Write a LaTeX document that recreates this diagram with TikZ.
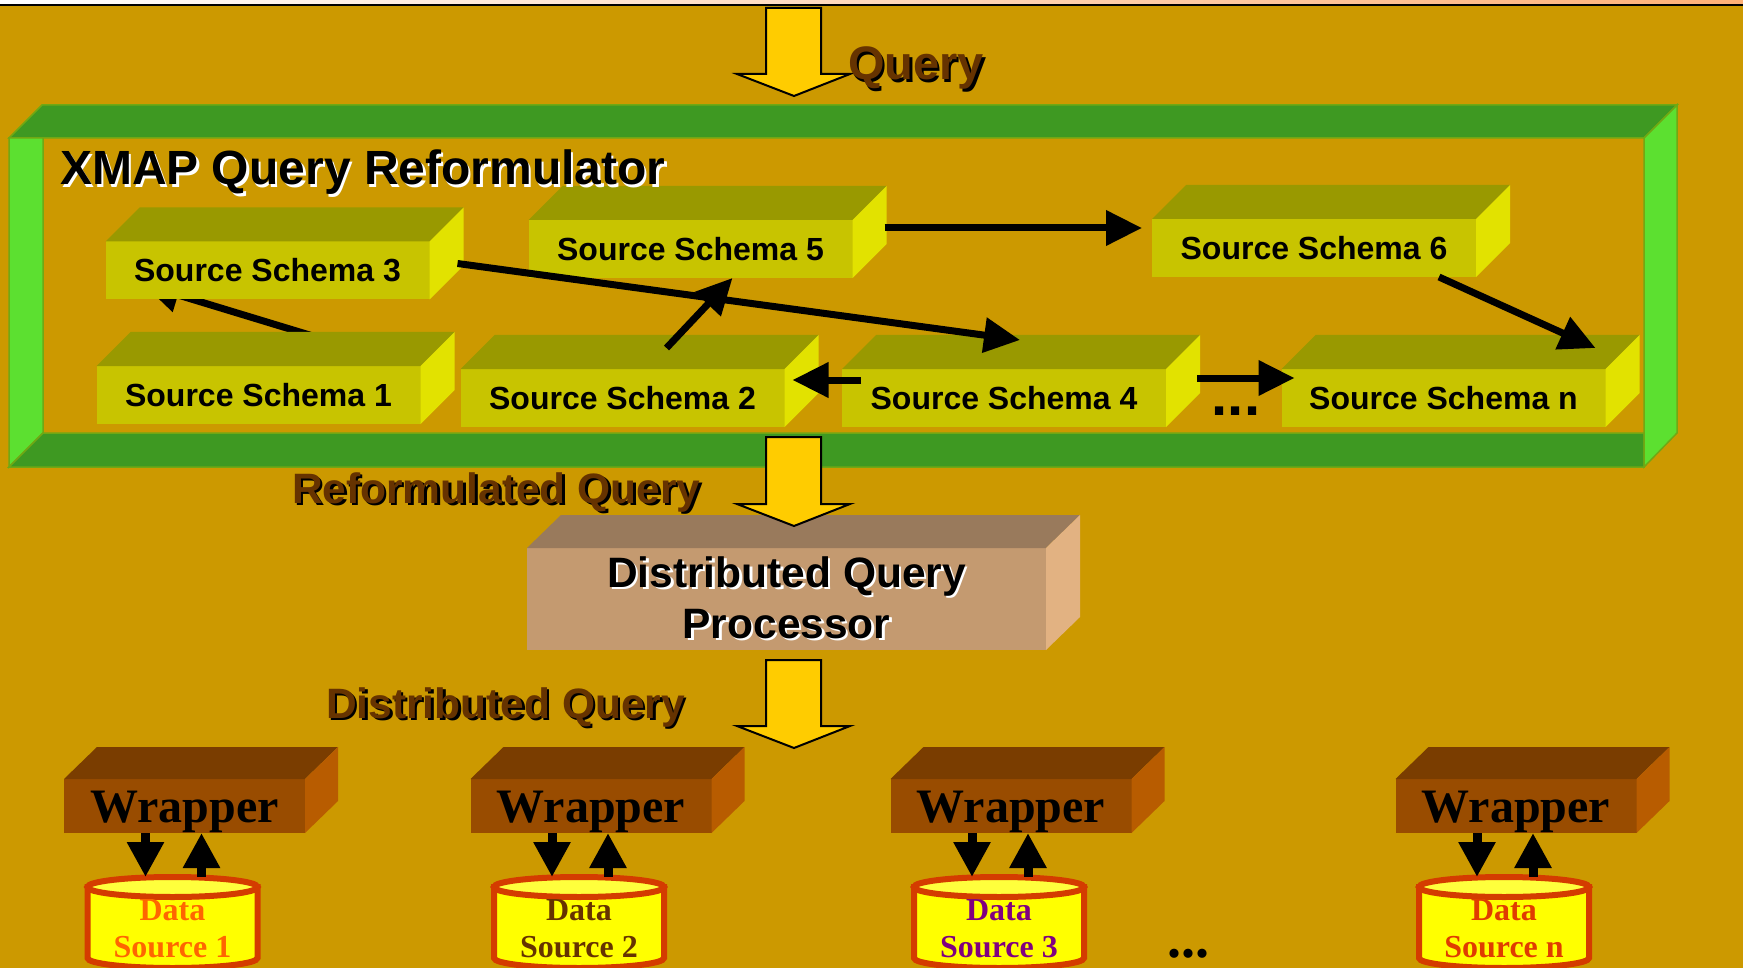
\documentclass[tikz,border=0pt]{standalone}
\usepackage{fontspec}
\setmainfont{Liberation Sans}
\newfontfamily\timesfont{Liberation Serif}
\usetikzlibrary{arrows.meta}

\definecolor{ground}{RGB}{204,153,0}
\definecolor{framedark}{RGB}{62,153,34}
\definecolor{framelight}{RGB}{92,224,48}
\definecolor{frameedge}{RGB}{112,168,20}
\definecolor{schemafront}{RGB}{200,196,0}
\definecolor{schematop}{RGB}{153,153,0}
\definecolor{schemaside}{RGB}{226,226,0}
\definecolor{procfront}{RGB}{196,154,112}
\definecolor{proctop}{RGB}{153,122,92}
\definecolor{procside}{RGB}{226,178,130}
\definecolor{wrapfront}{RGB}{153,76,0}
\definecolor{wraptop}{RGB}{122,61,0}
\definecolor{wrapside}{RGB}{184,92,0}
\definecolor{arrowyellow}{RGB}{255,204,0}
\definecolor{labelbrown}{RGB}{102,51,0}
\definecolor{dbred}{RGB}{212,60,0}
\definecolor{dbyellow}{RGB}{255,255,0}
\definecolor{dblight}{RGB}{255,255,60}
\definecolor{dsorange}{RGB}{255,102,0}
\definecolor{dsbrown}{RGB}{102,51,0}
\definecolor{dspurple}{RGB}{128,0,128}
\definecolor{dsred}{RGB}{224,60,0}
\definecolor{peach}{RGB}{255,176,118}

\pgfdeclarelayer{background layer}
\pgfsetlayers{background layer,main}

% text with a drop shadow: #1 text colour, #2 shadow colour
\newcommand{\shadowtext}[3]{\makebox[0pt][l]{\hspace*{2.5pt}\raisebox{-2.5pt}{\color{#2}#3}}{\color{#1}#3}}

\tikzstyle{schema}=[rectangle,fill=schemafront,minimum width=324pt,minimum height=58pt,inner sep=0pt,outer sep=0pt,font=\bfseries\fontsize{32}{36}\selectfont]
\tikzstyle{processor}=[rectangle,fill=procfront,minimum width=519pt,minimum height=102pt,inner sep=0pt,outer sep=0pt,align=center,font=\bfseries\fontsize{42.5}{51}\selectfont]
\tikzstyle{wrapper}=[rectangle,fill=wrapfront,minimum width=241pt,minimum height=54pt,inner sep=0pt,outer sep=0pt,text height=33pt,text depth=0pt,font=\timesfont\bfseries\fontsize{48}{52}\selectfont]
\tikzstyle{source}=[rectangle,minimum width=171pt,minimum height=57pt,inner sep=0pt,outer sep=0pt,align=center,font=\timesfont\bfseries\fontsize{32}{37}\selectfont]
\tikzstyle{caption}=[anchor=base west,inner sep=0pt,outer sep=0pt]
\tikzstyle{flow}=[line width=7pt,-{Triangle[length=36pt,width=34pt]}]
\tikzstyle{io}=[line width=9pt,-{Triangle[length=35pt,width=35pt]}]
\tikzstyle{bigarrow}=[fill=arrowyellow,draw=black,line width=2pt,line join=miter]
\tikzstyle{dbbody}=[fill=dbyellow,draw=dbred,line width=6pt]
\tikzstyle{dbtop}=[fill=dblight,draw=dbred,line width=6pt]

\begin{document}
\begin{tikzpicture}[x=1pt,y=-1pt]
\useasboundingbox (0,0) rectangle (1743,968);

% strip along the top edge
\shade[left color=white,right color=peach] (0,0) rectangle (1743,4);
\fill[black] (0,4) rectangle (1743,6.5);

% the reformulator frame
\node (xmap) [rectangle,minimum width=1635pt,minimum height=329pt,inner sep=0pt,outer sep=0pt] at (826.5,302.5) {};

% source schemas
\foreach \n/\x/\y/\t in {ss1/258.5/395/1,ss2/622.5/398/2,ss3/267.5/270.5/3,ss4/1004/398/4,ss5/690.5/249/5,ss6/1314/248/6,ssn/1443.5/398/n}
{
	\node (\n) [schema] at (\x,\y) {Source Schema \t};
	\fill[schematop] (\n.north west) -- ++(34,-34) -- ([shift={(34,-34)}]\n.north east) -- (\n.north east) -- cycle;
	\fill[schemaside] (\n.north east) -- ++(34,-34) -- ([shift={(34,-34)}]\n.south east) -- (\n.south east) -- cycle;
}

\begin{pgfonlayer}{background layer}
	\fill[ground] (0,6) rectangle (1743,968);
	\filldraw[framedark,draw=frameedge,line width=1.5pt] (xmap.north west) -- ++(33,-33) -- ([shift={(33,-33)}]xmap.north east) -- (xmap.north east) -- cycle;
	\filldraw[framelight,draw=frameedge,line width=1.5pt] (xmap.north west) -- ++(34,0) -- ([shift={(34,-34)}]xmap.south west) -- (xmap.south west) -- cycle;
	\filldraw[framedark,draw=frameedge,line width=1.5pt] (xmap.south west) -- ([shift={(34,-34)}]xmap.south west) -- ([shift={(0,-34)}]xmap.south east) -- (xmap.south east) -- cycle;
	\filldraw[framelight,draw=frameedge,line width=1.5pt] (xmap.north east) -- ++(33,-33) -- ([shift={(33,-34)}]xmap.south east) -- (xmap.south east) -- cycle;
	% this one runs behind the boxes
	\draw[flow] ([xshift=-9pt]ss1.north east) -- ([xshift=38pt,yshift=15pt]ss3.south west);
\end{pgfonlayer}

\draw[flow] ([xshift=28pt,yshift=7pt]ss3.east) -- ([xshift=16pt,yshift=29pt]ss4.north);
\draw[flow] ([xshift=44pt,yshift=21pt]ss2.north) -- ([xshift=42pt]ss5.south);
\draw[flow] ([xshift=19pt,yshift=18pt]ss4.west) -- ([xshift=8pt,yshift=18pt]ss2.east);
\draw[flow] ([xshift=31pt,yshift=20pt]ss4.east) -- ([xshift=13pt,yshift=20pt]ssn.west);
\draw[flow] ([xshift=32pt,yshift=21pt]ss5.east) -- ([xshift=-10pt,yshift=20pt]ss6.west);
\draw[flow] ([xshift=125pt]ss6.south) -- ([xshift=152pt,yshift=21pt]ssn.north);

\node (more1) [font=\bfseries\fontsize{58}{58}\selectfont,inner sep=0pt] at (1236,411) {...};

\node (title) [caption,font=\bfseries\fontsize{48}{52}\selectfont] at (60,185) {\shadowtext{black}{white}{XMAP Query Reformulator}};

% query processor
\node (dqp) [processor] at (786.5,599) {\shadowtext{black}{white}{Distributed Query}\\\shadowtext{black}{white}{Processor}};
\fill[proctop] (dqp.north west) -- ++(34,-33) -- ([shift={(34,-33)}]dqp.north east) -- (dqp.north east) -- cycle;
\fill[procside] (dqp.north east) -- ++(34,-33) -- ([shift={(34,-33)}]dqp.south east) -- (dqp.south east) -- cycle;

% block arrows
\foreach \t/\b in {8/74,437/504,660/726}
	\draw[bigarrow] (766,\t) -- (821,\t) -- (821,\b) -- (850,\b) -- (794,\b+22) -- (737,\b) -- (766,\b) -- cycle;

\node (querylabel) [caption,font=\bfseries\fontsize{47}{52}\selectfont] at (848,80) {\shadowtext{labelbrown}{black}{Query}};
\node (reflabel) [caption,font=\bfseries\fontsize{42.5}{46}\selectfont] at (292,503) {\shadowtext{labelbrown}{black}{Reformulated Query}};
\node (distlabel) [caption,font=\bfseries\fontsize{42.5}{47}\selectfont] at (326,718) {\shadowtext{labelbrown}{black}{Distributed Query}};

% wrappers and data sources
\foreach \i/\x/\c in {1/184.5/dsorange,2/591/dsbrown,3/1011/dspurple,n/1516/dsred}
{
	\node (w\i) [wrapper] at (\x,806) {Wrapper};
	\fill[wraptop] (w\i.north west) -- ++(33,-32) -- ([shift={(33,-32)}]w\i.north east) -- (w\i.north east) -- cycle;
	\fill[wrapside] (w\i.north east) -- ++(33,-32) -- ([shift={(33,-32)}]w\i.south east) -- (w\i.south east) -- cycle;
	\node (ds\i) [source,text=\c] at (\x-12,929) {Data\\Source \i};
	\begin{pgfonlayer}{background layer}
		\filldraw[dbbody] ([shift={(-85,-42)}]ds\i.center) -- ([shift={(-85,29)}]ds\i.center) arc[start angle=180,end angle=360,x radius=85pt,y radius=10pt] -- ([shift={(85,-42)}]ds\i.center) -- cycle;
		\filldraw[dbtop] ([shift={(0,-42)}]ds\i.center) ellipse[x radius=85pt,y radius=10pt];
	\end{pgfonlayer}
	\draw[io] ([xshift=-39pt]w\i.south) -- ([xshift=-27pt,yshift=52pt]ds\i.center);
	\draw[io] ([xshift=29pt,yshift=52pt]ds\i.center) -- ([xshift=17pt]w\i.south);
}

\node (more2) [font=\timesfont\bfseries\fontsize{56}{56}\selectfont,inner sep=0pt] at (1188,954) {...};

\end{tikzpicture}
\end{document}
